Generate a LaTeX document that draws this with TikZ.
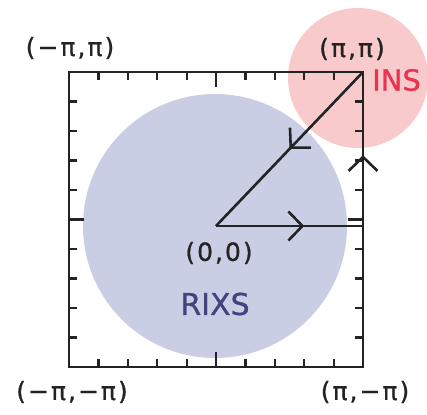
\documentclass[tikz,border=0pt]{standalone}
\usepackage{fontspec}
\setmainfont{DejaVu Sans}[FakeBold=0.8]
\newfontfamily\labfont[LetterSpace=8,FakeBold=0.8]{DejaVu Sans}
\usetikzlibrary{decorations.markings,arrows.meta}
\definecolor{rixsblue}{RGB}{202,206,228}
\definecolor{inspink}{RGB}{248,202,204}
\definecolor{insred}{RGB}{232,52,78}
\definecolor{rixstext}{RGB}{66,66,124}
\definecolor{axiscol}{RGB}{35,35,35}
\tikzset{
  frame/.style={draw=axiscol,line width=2.6pt},
  tickline/.style={draw=axiscol,line width=2.2pt},
  pathline/.style={draw=axiscol,line width=2.6pt},
  midarrow/.style={postaction={decorate},decoration={markings,
     mark=at position #1 with {\arrow{Straight Barb[length=14pt,width=29pt]}}}},
  coordlabel/.style={font=\labfont\fontsize{25pt}{28pt}\selectfont,text=axiscol,inner sep=0pt},
}
\begin{document}
\begin{tikzpicture}[x=1pt,y=-1pt]
\useasboundingbox (0,0) rectangle (427,414);
\fill[rixsblue] (215,226) circle (132);
\fill[inspink] (358,78) circle (70);
\draw[frame] (69,72) rectangle (363,367);
\foreach \i/\l in {1/8,2/8,3/8,4/8,5/15,6/8,7/8,8/8,9/8}{
  \pgfmathsetmacro\xx{69+29.4*\i}
  \pgfmathsetmacro\yy{72+29.5*\i}
  \draw[tickline] (\xx,72) -- ++(0,\l);
  \draw[tickline] (\xx,367) -- ++(0,-\l);
  \draw[tickline] (69,\yy) -- ++(\l,0);
  \draw[tickline] (363,\yy) -- ++(-\l,0);
}
\coordinate (O) at (216,226);
\coordinate (A) at (363,226);
\coordinate (B) at (363,72);
\draw[pathline,midarrow=0.6] (O) -- (A);
\draw[pathline,midarrow=0.46] (A) -- (B);
\draw[pathline,midarrow=0.5] (B) -- (O);
\node[coordlabel] (lmp) at (70,48) {(−π,π)};
\node[coordlabel] (lpp) at (352,49) {(π,π)};
\node[coordlabel] (loo) at (219,253) {(0,0)};
\node[coordlabel] (lmm) at (72,392) {(−π,−π)};
\node[coordlabel] (lpm) at (365,392) {(π,−π)};
\node[font=\fontsize{29pt}{32pt}\selectfont,text=insred,inner sep=0pt,anchor=west] (ins) at (372,80) {INS};
\node[font=\fontsize{30pt}{34pt}\selectfont,text=rixstext,inner sep=0pt] (rixs) at (215,304) {RIXS};
\end{tikzpicture}
\end{document}
